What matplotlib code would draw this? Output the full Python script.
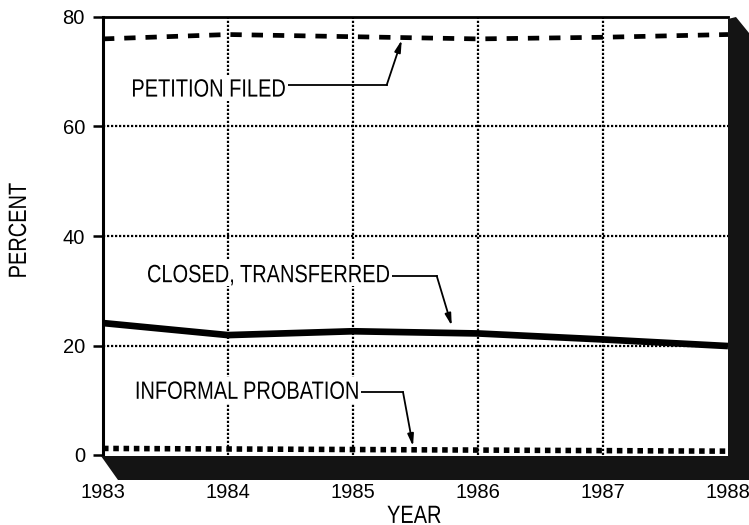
# -*- coding: utf-8 -*-
"""
Juvenile court intake outcomes, 1983-1988 (percent of referrals)
"""

import matplotlib
matplotlib.use('Agg')
import matplotlib.pyplot as plt
from matplotlib.font_manager import FontProperties
from matplotlib.patches import Polygon, PathPatch, Rectangle
from matplotlib.textpath import TextPath
from matplotlib.transforms import Affine2D

years = [1983, 1984, 1985, 1986, 1987, 1988]
petition_filed = [76.0, 76.8, 76.4, 76.0, 76.3, 76.8]
closed_transferred = [24.1, 21.9, 22.6, 22.2, 21.1, 19.9]
informal_probation = [1.2, 1.1, 1.0, 0.9, 0.8, 0.7]
y_ticks = [0, 20, 40, 60, 80]
grid_years = [1984, 1985, 1986, 1987]
grid_pct = [20, 40, 60]

W, H = 749, 525
EM = 25.0        # px, em size for the condensed labels
STRETCH = 0.80   # horizontal squeeze
CAP = 0.716 * EM

plt.rcParams['font.family'] = ['Liberation Sans', 'DejaVu Sans']
fp = FontProperties(family='Liberation Sans')


def fpx(x, y):
    """ pixel position (from top left) -> figure fraction """
    return (x / W, 1 - y / H)


def narrow_text(fig, x, y, s, ha='left', rot=0, box=False):
    """ draws condensed text with caps centred on display point (x, y); returns right edge """
    tp = TextPath((0, 0), s, size=EM, prop=fp)
    ext = tp.get_extents()
    w = ext.width * STRETCH
    dx = -ext.x0 * STRETCH if ha == 'left' else -(ext.x0 + ext.width / 2) * STRETCH
    tr = Affine2D().scale(STRETCH, 1).translate(dx, -CAP / 2).rotate_deg(rot).translate(x, y)
    if box:
        x0 = x + dx + ext.x0 * STRETCH
        fig.add_artist(Rectangle((x0 - 3, y - CAP / 2 - 4), w + 6, CAP + 8,
                                 transform=Affine2D(), facecolor='white',
                                 edgecolor='none', zorder=2))
    fig.add_artist(PathPatch(tp, transform=tr, facecolor='k', edgecolor='none',
                             zorder=3))
    return x + dx + ext.x1 * STRETCH


fig = plt.figure(figsize=[W / 100, H / 100], dpi=100)
ax = fig.add_axes([103 / W, 70 / H, 625 / W, 438 / H])

ax.set_xlim(1983, 1988)
ax.set_ylim(0, 80)

# dotted background grid
for yv in grid_pct:
    ax.axhline(yv, color='k', lw=1.6, ls=(0, (1, 0.8)), zorder=1)
for xv in grid_years:
    ax.axvline(xv, color='k', lw=1.6, ls=(0, (1, 0.8)), zorder=1)

# the three series
ax.plot(years, petition_filed, color='k', lw=3.4, ls=(0, (2.4, 2.1)),
        solid_capstyle='butt', dash_capstyle='butt', zorder=3)
ax.plot(years, closed_transferred, color='k', lw=4.8, solid_capstyle='butt', zorder=3)
ax.plot(years, informal_probation, color='k', lw=4.0, ls=(0, (1, 0.85)),
        dash_capstyle='butt', zorder=3)

# axes styling
ax.spines['right'].set_visible(False)
ax.spines['bottom'].set_visible(False)
ax.spines['left'].set_linewidth(2.2)
ax.spines['top'].set_linewidth(2.0)
ax.set_yticks(y_ticks)
ax.set_xticks(years)
ax.set_xticklabels([str(y) for y in years])
ax.tick_params(axis='y', length=7, width=1.8, pad=6, labelsize=14.5)
ax.tick_params(axis='x', length=0, pad=20, labelsize=14.5)

# labels with leader lines and arrows: text pos, leader y, elbow x, arrow tip
labels = [
    ('PETITION FILED', 1983.24, 67.1, 67.6, 1985.27, (1985.39, 75.8)),
    ('CLOSED, TRANSFERRED', 1983.36, 33.2, 32.7, 1985.67, (1985.79, 23.6)),
    ('INFORMAL PROBATION', 1983.27, 11.9, 11.5, 1985.40, (1985.48, 1.6)),
]
for txt, tx, ty, ly, cx, tip in labels:
    px, py = ax.transData.transform((tx, ty))
    x_end = narrow_text(fig, px, py, txt, box=True)
    x_end = ax.transData.inverted().transform((x_end + 2, 0))[0]
    ax.plot([x_end, cx], [ly, ly], color='k', lw=1.3, zorder=4)
    ax.annotate('', xy=tip, xytext=(cx, ly), zorder=4,
                arrowprops=dict(arrowstyle='-|>,head_length=0.7,head_width=0.18',
                                color='k', lw=1.3, shrinkA=0, shrinkB=0))

# axis titles
narrow_text(fig, 17, H - 230, 'PERCENT', ha='center', rot=90)
narrow_text(fig, 414, H - 514, 'YEAR', ha='center')

# dark floor and right wall
shade = Polygon([fpx(101, 456), fpx(728, 456), fpx(728, 19), fpx(736, 17),
                 fpx(749, 33), fpx(749, 480), fpx(118, 480)],
                closed=True, transform=fig.transFigure, facecolor='#141414',
                edgecolor='none', zorder=5)
fig.patches.append(shade)

fig.savefig('out.png', dpi=100)
